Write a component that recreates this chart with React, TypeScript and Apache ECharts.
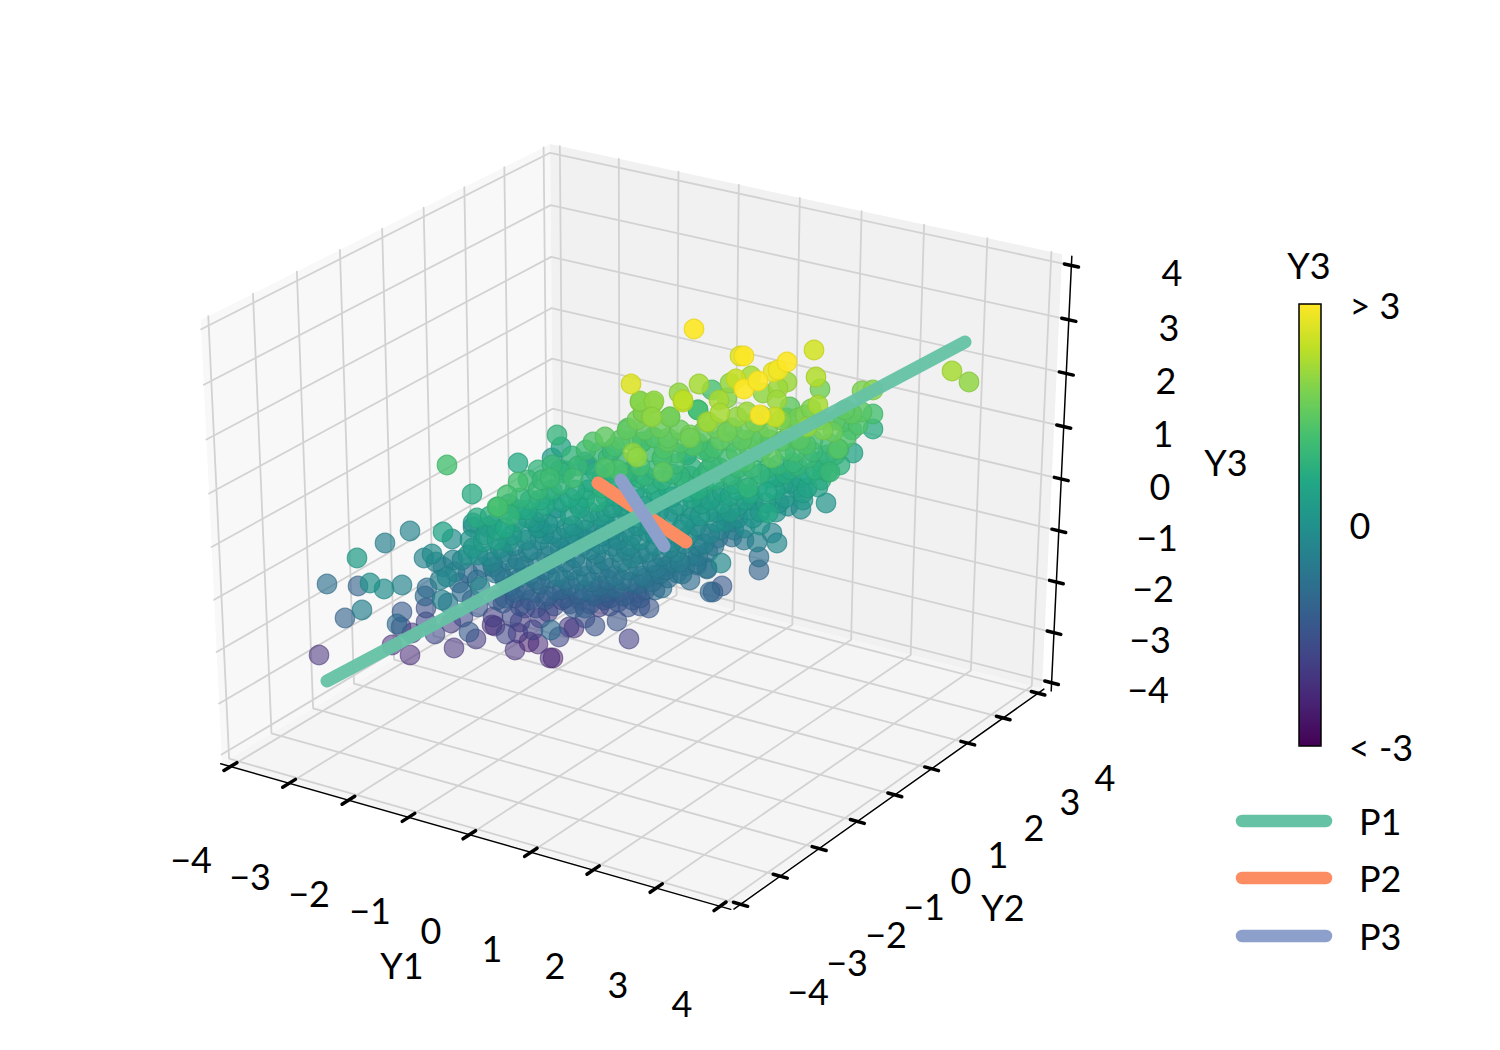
import React, { useEffect, useRef } from "react";
import * as echarts from "echarts";

const tickValues = [-4, -3, -2, -1, 0, 1, 2, 3, 4];
const tickText = ["\u22124", "\u22123", "\u22122", "\u22121", "0", "1", "2", "3", "4"];
const y1LabelPlaces = [[191, 860], [250, 877], [309, 894], [370, 911], [431, 931], [492, 949], [555, 966], [618, 985], [682, 1004]];
const y2LabelPlaces = [[808, 992], [847, 963], [886, 935], [924, 907], [961, 881], [998, 855], [1034, 828], [1070, 802], [1105, 778]];
const y3LabelPlaces = [[1148, 690], [1150, 640], [1153, 589], [1157, 538], [1160, 487], [1163, 434], [1166, 381], [1169, 328], [1172, 273]];

// Principal axes, read as screen positions on the projected picture
const p1Ends = [[327, 681], [965, 342]];
const p2Ends = [[598, 483], [686, 542]];
const p3Ends = [[621, 480], [664, 546]];

// Points: [picture x, picture y, Y3]
const outliersLeft = [
  [447,465,1.2],[472,494,.7],[497,507,1.2],[477,518,.7],[473,523,.1],[443,532,.5],[452,539,-.1],[410,531,-.3],[385,543,-.4],[357,558,.3],
  [327,584,-.8],[358,586,-1.1],[370,583,0],[384,589,-.1],[402,585,-.3],[362,610,-.4],[345,618,-1.1],[319,655,-2.2],[402,612,-1.3],[397,624,-.9],
  [401,627,-1.9],[412,633,-2.0],[392,645,-2.2],[410,655,-2.3],[426,608,-1.6],[427,588,-.9],[425,596,-1.0],[426,622,-1.7],[435,634,-1.7],[454,648,-2.1],
  [451,623,-2.0],[469,632,-1.3],[476,639,-2.0],[463,617,-1.7],[424,558,-.3],[432,554,-.1],[436,562,-.3],[443,567,-.7],[453,560,-.3],[447,577,-.2],
  [459,583,-1.0],[442,600,-.4],[448,603,-.6],[440,580,-.4],[468,555,0],[473,548,.2],[483,542,.3],[487,527,.2],[473,527,-.1],[492,525,.1],
  [497,530,.5],[477,580,-.8],[483,567,-.9],[468,573,-1.0],[480,587,-.3],[472,600,-1.3],[493,567,-.6],[497,600,-1.3],[478,607,-1.4],[493,617,-1.9],
  [492,625,-2.2],[495,573,-.7],
];
const lowerFringe = [
  [629,639,-1.9],[649,608,-1.4],[617,621,-1.5],[595,626,-1.5],[574,628,-2.2],[569,627,-2.0],[553,658,-2.6],[550,658,-2.3],[515,650,-2.2],[538,644,-2.3],
  [529,642,-2.6],[559,637,-1.7],[551,630,-.9],[518,633,-2.1],[506,634,-1.8],[495,626,-2.2],[533,630,-1.8],[525,608,-1.8],[503,603,-1.4],[548,612,-2.0],
  [562,600,-1.9],[574,608,-1.3],[585,608,-1.2],[599,607,-2.0],[610,606,-1.6],[628,607,-1.5],[637,593,-1.8],[662,588,-.8],[677,573,-.7],[667,566,-1.3],
  [655,575,-1.2],[696,563,-.6],[707,568,-.7],[710,592,-1.0],[540,618,-1.9],[512,617,-1.7],[520,622,-2.0],[585,618,-1.6],[607,596,-1.7],[580,600,-1.5],
  [545,600,-1.3],[515,598,-1.5],[620,592,-1.3],[645,590,-1.2],[690,580,-.9],
];
const upperCloud = [
  [557,435,.9],[561,447,.5],[518,463,.6],[552,458,.3],[552,465,1.0],[518,482,1.2],[507,495,1.2],[498,507,1.2],[509,504,-.1],[542,480,1.0],
  [566,471,.5],[573,478,1.1],[585,462,.2],[588,465,.3],[593,442,1.3],[605,437,1.5],[612,450,1.0],[620,440,1.4],[628,428,1.5],[637,420,1.7],
  [643,413,1.8],[651,417,1.9],[653,403,1.9],[640,402,1.9],[670,417,1.7],[683,402,2.4],[698,410,.9],[707,422,2],[642,442,1.2],[653,437,1.3],
  [668,442,1.5],[633,453,2],[662,458,1.2],[663,472,1.5],[687,455,.8],[680,443,1.3],[698,443,1.2],[690,435,1.7],[707,450,1.1],[618,470,1.3],
  [610,473,.7],[605,468,1.3],[630,472,.8],
  [694,329,3],[744,356,3.2],[740,356,2.7],[787,362,3],[814,350,2.6],[631,384,2.7],[699,384,2.2],[712,390,1.2],[679,393,2],[683,400,2.4],
  [736,379,2.5],[744,389,3],[758,381,3],[751,376,2.2],[773,372,2.8],[778,370,2.9],[787,382,2.1],[730,383,2],[816,377,2.3],[820,389,1.7],
  [640,401,1.9],[654,401,2],[643,412,1.8],[652,417,2],[670,417,1.7],[719,400,2.2],[727,398,1.9],[698,410,1.2],[708,422,2.1],[720,413,2.2],
  [737,417,2],[747,412,2.1],[763,393,2],[778,388,2.1],[777,400,2.1],[762,416,1.4],[760,415,3],[775,417,2.5],[790,407,1.5],[787,418,1.4],
  [811,409,1.8],[818,405,2.2],[823,430,1.8],[833,432,1.6],[807,427,2.0],[843,422,1.3],[839,449,1.1],[827,455,.9],[828,472,.8],[821,480,.7],
  [732,428,1.4],[759,433,1.3],[731,442,1.2],[709,452,1.1],[772,458,1.5],[662,458,1.2],[642,442,1.1],[655,438,1.3],[627,430,1.5],[637,457,2],
  [668,438,1.5],[690,438,1.7],[703,450,1.1],[687,453,.6],
];
const rightEdge = [
  [952,371,2.2],[969,382,2.0],[862,391,1.8],[873,390,1.9],[873,414,1.2],[873,429,.7],[853,453,.5],[852,430,1.2],[838,449,1.4],[830,472,1.0],
  [813,452,1.0],[818,487,.4],[807,488,.5],[826,503,.1],[803,500,.2],[801,509,-.1],[803,493,.3],[779,503,.1],[772,533,-.3],[777,543,-.2],
  [757,542,-.4],[759,557,-.8],[759,570,-1.1],[722,586,-1.3],[713,592,-1.2],[721,563,-.2],[707,569,-.8],[697,565,-1.0],[732,537,-.8],[753,500,-.3],
  [768,513,.6],[753,518,.1],[748,488,.9],[790,483,.3],[793,463,.9],[777,477,.5],[767,492,.6],[733,522,-.6],[727,517,-.7],[718,538,-.9],
  [700,530,-.5],[737,490,.6],[710,500,.4],[858,425,1.3],[845,410,1.5],[800,440,1.4],[815,470,.8],[785,450,1.2],
];
const coreUpper = [
  [608,458,1.0],[622,462,.9],[640,466,1.2],[655,470,.9],[675,464,1.0],[692,468,.8],[712,462,1.0],[728,458,1.1],[745,462,1.2],[760,452,1.1],
  [778,465,.9],[795,452,1.2],[806,445,1.3],[820,462,.8],[748,446,1.3],[720,440,1.5],[745,430,1.6],[770,440,1.4],[790,430,1.6],[805,415,1.8],
  [560,485,.9],[575,490,.7],[590,482,.6],[602,488,.8],[618,484,.6],[635,490,.5],[650,484,.7],[668,488,.6],[684,482,.8],[698,490,.7],
  [715,480,.8],[730,476,.9],[745,480,.8],[760,474,.9],[775,490,.5],[790,470,.7],[800,478,.5],[550,495,.5],[538,490,1.0],[530,500,.8],
  [520,498,.9],[545,505,.6],[562,502,.5],[580,508,.5],[597,502,.7],[612,508,.3],[628,502,.4],[645,506,.3],[660,500,.4],[678,505,.3],
  [692,498,.5],[708,512,.2],[722,504,.4],[738,506,.2],[750,494,.6],[766,503,.3],[785,498,.2],[510,515,.9],[528,518,.3],[505,528,.6],
  [520,510,.5],[540,512,.3],[557,508,.1],[570,515,.4],[585,520,.2],[600,516,.2],[618,522,.1],[635,518,.2],[650,525,.1],[668,518,.1],
  [684,524,.1],[700,516,.2],[716,522,.0],[730,512,.3],[745,528,-.2],[760,525,.0],
];
const coreLower = [
  [497,540,.4],[508,542,.1],[522,532,.1],[538,528,.1],[552,534,-.1],[566,528,.0],[580,536,-.1],[596,530,-.1],[610,538,-.2],[625,532,-.1],
  [640,540,-.1],[655,534,.0],[672,542,-.2],[688,536,-.1],[704,544,-.4],[720,530,-.4],[488,556,-.2],[503,552,-.3],[518,560,-.4],[532,550,-.3],
  [546,556,-.4],[560,548,-.3],[575,558,-.4],[590,550,-.3],[604,560,-.4],[618,552,-.3],[632,558,-.3],[648,552,-.3],[662,556,-.4],[676,552,-.3],
  [690,556,-.5],[708,552,-.7],[500,572,-.6],[515,568,-.6],[530,575,-.6],[545,570,-.6],[558,576,-.5],[572,570,-.5],[586,576,-.5],[600,572,-.6],
  [615,576,-.6],[628,570,-.5],[642,576,-.6],[657,568,-.5],[672,562,-.5],[685,566,-.7],[510,586,-.9],[525,590,-1.0],[540,584,-.9],[555,590,-1.0],
  [570,586,-.9],[585,590,-.9],[600,586,-.8],[615,588,-.9],[630,582,-.8],[645,578,-.7],[660,574,-.7],[505,598,-1.2],[530,600,-1.3],[565,598,-1.3],
  [595,596,-1.1],[610,598,-1.3],[632,600,-1.3],[540,540,-.2],[570,542,-.2],[600,544,-.2],[630,546,-.2],[660,528,.0],[690,518,.1],[650,514,.2],
  [615,496,.5],[585,498,.6],[640,478,.8],[680,476,.9],
];
const densePack = [
  [615,447,1.2],[632,441,1.3],[648,452,1.1],[664,449,1.3],[676,453,1.2],[693,446,1.3],[714,448,1.2],[736,452,1.3],[752,439,1.5],[764,447,1.3],
  [782,441,1.4],[798,440,1.4],[813,440,1.2],[830,444,1.1],[846,438,1.3],[727,432,1.7],[716,428,1.6],[703,432,1.5],[680,430,1.6],[660,428,1.6],
  [645,430,1.5],[755,422,1.8],[768,428,1.7],[781,420,1.8],[798,418,1.7],[742,440,1.5],[836,420,1.4],[852,414,1.5],[862,412,1.4],[820,420,1.6],
  [596,472,.8],[578,466,1.0],[563,473,.9],[550,478,1.1],[612,478,.8],[624,473,.9],[645,476,.9],[662,480,.8],[672,474,.9],[703,476,.9],
  [720,468,1.0],[738,468,1.0],[752,468,1.0],[768,468,.8],[785,474,.7],[797,466,.9],[808,458,1.0],[822,470,.7],[840,465,.8],[835,455,.9],
  [540,500,.7],[527,510,.6],[516,522,.4],[552,490,.8],[570,498,.6],[588,490,.6],[606,497,.5],[624,494,.5],[642,498,.4],[656,492,.6],
  [672,497,.4],[688,492,.6],[704,486,.7],[722,492,.5],[733,484,.7],[746,500,.4],[758,486,.6],[770,478,.6],[783,484,.4],[797,488,.3],
  [809,474,.6],[556,518,.1],[548,524,.1],[535,522,.1],[573,526,.1],[590,512,.3],[606,524,.1],[626,512,.2],[642,514,.2],[658,512,.2],
  [674,512,.1],[692,510,.2],[702,504,.3],[716,512,.1],[726,522,-.1],[738,518,-.1],[748,510,.1],[760,512,.2],[776,512,.0],[788,506,-.1],
  [512,535,.2],[526,540,-.1],[544,534,-.1],[560,538,-.2],[574,534,-.1],[588,540,-.2],[602,536,-.2],[618,540,-.2],[632,536,-.1],[648,532,-.1],
  [664,536,-.1],[680,530,-.1],[696,526,-.1],[710,534,-.3],[734,530,-.5],[744,540,-.6],[500,548,-.1],[514,546,-.3],[528,552,-.4],[550,546,-.3],
  [566,552,-.4],[582,546,-.3],[596,554,-.4],[612,546,-.3],[626,550,-.3],[640,554,-.4],[655,546,-.2],[670,548,-.3],[684,544,-.3],[698,546,-.5],
  [714,546,-.7],[492,562,-.3],[508,560,-.5],[524,566,-.6],[538,562,-.5],[552,564,-.5],[566,562,-.5],[582,566,-.5],[596,564,-.5],[610,568,-.6],
  [622,562,-.4],[638,566,-.5],[652,562,-.5],[666,570,-.7],[680,562,-.5],[698,556,-.6],[505,580,-.8],[520,578,-.7],[536,580,-.8],[550,578,-.8],
  [565,580,-.7],[578,580,-.7],[592,582,-.8],[608,580,-.8],[622,580,-.7],[638,584,-.9],[652,582,-.8],[668,578,-.8],[682,574,-.7],[515,592,-1.1],
  [535,592,-1.1],[548,596,-1.2],[562,590,-1.1],[578,594,-1.1],[592,592,-1.0],[606,592,-1.1],[624,596,-1.2],[640,598,-1.3],[655,590,-1.0],[520,606,-1.5],
  [536,608,-1.6],[554,606,-1.6],[570,604,-1.4],[590,604,-1.5],[604,600,-1.4],[618,602,-1.4],[640,606,-1.5],[540,528,.0],[700,496,.4],[716,496,.4],
  [730,496,.5],[622,506,.3],[606,512,.3],[586,530,-.1],[612,530,-.1],[638,526,.0],[578,504,.4],[602,478,.7],[628,478,.6],[690,476,.8],
  [708,470,.9],[560,470,.7],[572,456,.9],[600,452,1.0],[586,450,1.1],[538,470,.9],[528,480,1.0],[508,510,.8],[490,516,.7],[485,535,.3],
  [470,540,.1],[462,560,-.3],[455,572,-.5],[462,592,-.9],[478,555,-.1],
];

const allPoints = [...outliersLeft, ...lowerFringe, ...coreLower, ...densePack, ...coreUpper, ...upperCloud, ...rightEdge]
  .slice()
  .sort((a, b) => a[2] - b[2]);

const viridis = ["#440154", "#482475", "#414487", "#355f8d", "#2a788e", "#21918c", "#22a884", "#44bf70", "#7ad151", "#bddf26", "#fde725"];
const FONT = "Lato";

// A slightly darker rim for a marker of value y3
function rimColor(y3: number) {
  const t = Math.min(Math.max((y3 + 3) / 6, 0), 1) * (viridis.length - 1);
  const i = Math.min(Math.floor(t), viridis.length - 2);
  const f = t - i;
  const c = [1, 3, 5].map((k) => {
    const a = parseInt(viridis[i].slice(k, k + 2), 16);
    const b = parseInt(viridis[i + 1].slice(k, k + 2), 16);
    return Math.round((a + (b - a) * f) * 0.93);
  });
  return `rgb(${c[0]},${c[1]},${c[2]})`;
}

// Projection of the 3D box
const AZ = (-57.2 * Math.PI) / 180;
const EL = (28.2 * Math.PI) / 180;
const DIST = 10;
const L = 4 + 8 / 48;
const n = [Math.cos(EL) * Math.cos(AZ), Math.cos(EL) * Math.sin(AZ), Math.sin(EL)];
const u = [-Math.sin(AZ), Math.cos(AZ), 0];
const v = [n[1] * u[2] - n[2] * u[1], n[2] * u[0] - n[0] * u[2], n[0] * u[1] - n[1] * u[0]];
function raw(x: number, y: number, z: number) {
  const q = [x / 8, y / 8, z / 8];
  const dot = (a: number[]) => a[0] * q[0] + a[1] * q[1] + a[2] * q[2];
  const w = DIST - dot(n);
  return [dot(u) / w, dot(v) / w];
}
const aLB = raw(-L, -L, -L);
const aRB = raw(L, L, -L);
const aLT = raw(-L, -L, L);
const sx = (1042 - 222) / (aRB[0] - aLB[0]);
const sy = (763 - 320) / (aLT[1] - aLB[1]);
function proj(x: number, y: number, z: number): [number, number] {
  const r = raw(x, y, z);
  return [222 + (r[0] - aLB[0]) * sx, 763 - (r[1] - aLB[1]) * sy];
}

function seg(data: [number, number][] | number[][], color: string, width: number, z: number, extra: any = {}) {
  return {
    type: "line",
    data,
    z,
    symbol: "none",
    silent: true,
    clip: false,
    lineStyle: { color, width, cap: "round", ...extra },
  };
}

function buildOption() {
  const GRID = "#d2d2d2";
  const series: any[] = [];
  for (const t of tickValues) {
    series.push(seg([proj(t, -L, -L), proj(t, L, -L), proj(t, L, L)], GRID, 1.8, 1));
    series.push(seg([proj(-L, t, L), proj(-L, t, -L), proj(L, t, -L)], GRID, 1.8, 1));
    series.push(seg([proj(-L, -L, t), proj(-L, L, t), proj(L, L, t)], GRID, 1.8, 1));
  }
  // axis lines
  series.push(seg([proj(-L, -L - 0.03, -L), proj(L, -L - 0.03, -L)], "#000", 1.5, 2));
  series.push(seg([proj(L + 0.03, -L, -L), proj(L + 0.03, L, -L)], "#000", 1.5, 2));
  series.push(seg([proj(L + 0.15, L, -L), proj(L + 0.15, L, L)], "#000", 1.5, 2));
  // ticks
  for (const t of tickValues) {
    series.push(seg([proj(t, -L - 0.03 - 0.15, -L), proj(t, -L - 0.03 + 0.15, -L)], "#000", 3.5, 2));
    series.push(seg([proj(L + 0.03 - 0.11, t, -L), proj(L + 0.03 + 0.11, t, -L)], "#000", 3.5, 2));
    series.push(seg([proj(L + 0.15 - 0.11, L, t), proj(L + 0.15 + 0.11, L, t)], "#000", 3.5, 2));
  }
  const scatterIndex = series.length;
  series.push({
    type: "scatter",
    data: allPoints.map((p) => ({ value: p, itemStyle: { borderColor: rimColor(p[2]), borderWidth: 1.2 } })),
    z: 5,
    symbol: "circle",
    symbolSize: 19.5,
    silent: true,
    clip: false,
    large: false,
    encode: { x: 0, y: 1 },
  });
  series.push(seg(p2Ends, "#fc8d62", 13, 6));
  series.push(seg(p1Ends, "#66c2a5", 13, 7, { opacity: 0.96 }));
  series.push(seg(p3Ends, "#8da0cb", 13, 8));

  const text = (x: number, y: number, s: string, align = "center") => ({
    type: "text",
    x,
    y: y - 1,
    silent: true,
    style: { text: s, font: `36px ${FONT}`, fill: "#000", textAlign: align, textVerticalAlign: "middle" },
  });
  const poly = (pts: [number, number][], fill: string) => ({
    type: "polygon",
    silent: true,
    z: -1,
    shape: { points: pts },
    style: { fill },
  });
  const legendLine = (y: number, color: string) => ({
    type: "line",
    silent: true,
    shape: { x1: 1242, y1: y, x2: 1326, y2: y },
    style: { stroke: color, lineWidth: 12.5, lineCap: "round" },
  });

  const graphics: any[] = [
    poly([proj(-L, -L, -L), proj(-L, L, -L), proj(-L, L, L), proj(-L, -L, L)], "#f8f8f8"),
    poly([proj(-L, L, -L), proj(L, L, -L), proj(L, L, L), proj(-L, L, L)], "#f1f1f1"),
    poly([proj(-L, -L, -L), proj(L, -L, -L), proj(L, L, -L), proj(-L, L, -L)], "#f5f5f5"),
  ];
  tickText.forEach((s, i) => {
    graphics.push(text(y1LabelPlaces[i][0], y1LabelPlaces[i][1], s));
    graphics.push(text(y2LabelPlaces[i][0], y2LabelPlaces[i][1], s));
    graphics.push(text(y3LabelPlaces[i][0], y3LabelPlaces[i][1], s));
  });
  graphics.push(text(402, 966, "Y1"), text(1003, 908, "Y2"), text(1226, 463, "Y3"));
  graphics.push(text(1309, 266, "Y3"), text(1375, 306, "> 3"), text(1360, 526, "0"), text(1381, 748, "< -3"));
  graphics.push(legendLine(821, "#66c2a5"), legendLine(878, "#fc8d62"), legendLine(936, "#8da0cb"));
  graphics.push(text(1359, 822, "P1", "left"), text(1359, 879, "P2", "left"), text(1359, 937, "P3", "left"));
  graphics.push({
    type: "rect",
    silent: true,
    z: 100,
    shape: { x: 1299, y: 304, width: 22, height: 442 },
    style: { fill: "none", stroke: "#000", lineWidth: 1.5 },
  });

  return {
    animation: false,
    backgroundColor: "#ffffff",
    grid: { left: 0, right: 0, top: 0, bottom: 0 },
    xAxis: { type: "value", min: 0, max: 1500, show: false },
    yAxis: { type: "value", min: 0, max: 1050, inverse: true, show: false },
    visualMap: [
      {
        type: "continuous",
        seriesIndex: scatterIndex,
        dimension: 2,
        min: -3,
        max: 3,
        left: 1299,
        top: 304,
        itemWidth: 22,
        itemHeight: 442,
        padding: 0,
        text: ["", ""],
        showLabel: false,
        calculable: false,
        hoverLink: false,
        inRange: { color: viridis },
        outOfRange: { color: viridis },
      },
      {
        type: "continuous",
        show: false,
        seriesIndex: scatterIndex,
        dimension: 2,
        min: -3,
        max: 3,
        inRange: { opacity: [0.5, 0.9] },
      },
    ],
    graphic: { elements: graphics },
    series,
  };
}

export default function App() {
  const ref = useRef<HTMLDivElement>(null);
  useEffect(() => {
    const chart = echarts.init(ref.current!, undefined, { renderer: "svg" });
    chart.setOption(buildOption() as any);
    return () => chart.dispose();
  }, []);
  return <div ref={ref} style={{ position: "absolute", left: 0, top: 0, width: 1500, height: 1050 }} />;
}
